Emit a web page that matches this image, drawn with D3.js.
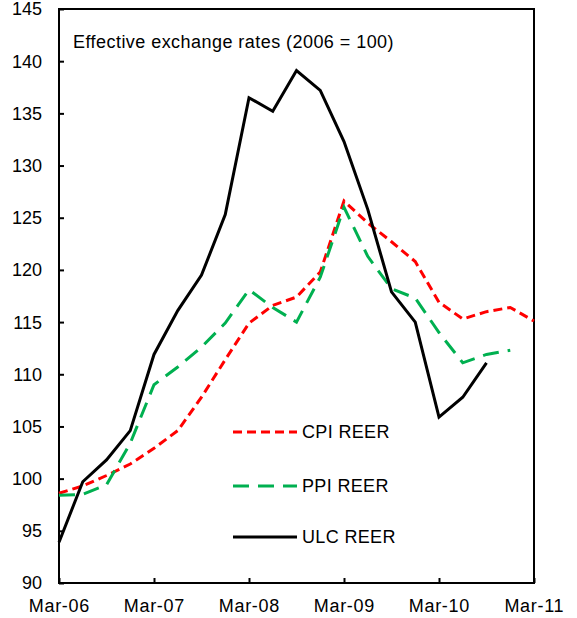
<!DOCTYPE html>
<html>
<head>
<meta charset="utf-8">
<script src="https://cdn.jsdelivr.net/npm/d3@7"></script>
<style>
  html, body { margin: 0; padding: 0; background: #fff; }
  svg { display: block; font-family: Arial, "Liberation Sans", sans-serif; }
</style>
</head>
<body>
<svg id="chart" width="577" height="618"></svg>
<script>
// Quarterly observations, Mar-06 (index 0) to Mar-11 (index 20)
const quarters = ["Mar-06","Jun-06","Sep-06","Dec-06","Mar-07","Jun-07","Sep-07","Dec-07",
  "Mar-08","Jun-08","Sep-08","Dec-08","Mar-09","Jun-09","Sep-09","Dec-09",
  "Mar-10","Jun-10","Sep-10","Dec-10","Mar-11"];
const cpiReer = [98.6, 99.3, 100.3, 101.4, 102.9, 104.6, 107.8, 111.4, 114.9, 116.6, 117.4, 119.8,
  126.6, 124.5, 122.7, 120.8, 116.9, 115.3, 116.0, 116.4, 115.1];
const ppiReer = [98.4, 98.5, 99.4, 103.4, 109.0, 110.7, 112.6, 114.9, 118.1, 116.4, 115.0, 119.3,
  126.0, 121.3, 118.2, 117.3, 114.0, 111.1, 111.9, 112.3];
const ulcReer = [93.9, 99.7, 101.8, 104.6, 111.9, 116.1, 119.5, 125.3, 136.5, 135.2, 139.1, 137.2,
  132.3, 125.8, 117.9, 115.0, 105.9, 107.8, 111.1];
const xTickLabels = ["Mar-06","Mar-07","Mar-08","Mar-09","Mar-10","Mar-11"];
const yTicks = [90, 95, 100, 105, 110, 115, 120, 125, 130, 135, 140, 145];
const seriesNames = ["CPI REER", "PPI REER", "ULC REER"];
const titleText = "Effective exchange rates (2006 = 100)";

(function () {
const svg = d3.select("#chart");
const mLeft = 59, mRight = 534, mTop = 9, mBottom = 583;

const x = d3.scaleLinear().domain([0, 20]).range([mLeft, mRight]);
const y = d3.scaleLinear().domain([90, 145]).range([mBottom, mTop]);

// Frame
svg.append("rect")
  .attr("x", mLeft).attr("y", mTop)
  .attr("width", mRight - mLeft).attr("height", mBottom - mTop)
  .attr("fill", "none").attr("stroke", "#000").attr("stroke-width", 2);

// Y axis (ticks inward)
const yAxis = d3.axisRight(y).tickValues(yTicks).tickSize(5).tickFormat("");
const yg = svg.append("g").attr("transform", `translate(${mLeft},0)`).call(yAxis);
yg.select(".domain").remove();
yg.selectAll(".tick line").attr("stroke", "#000").attr("stroke-width", 2);
svg.append("g").selectAll("text").data(yTicks).join("text")
  .attr("x", 42).attr("y", d => y(d)).attr("dy", "0.36em")
  .attr("text-anchor", "end").attr("font-size", 18).attr("fill", "#000")
  .text(d => d);

// X axis (ticks inward)
const xTickVals = xTickLabels.map(l => quarters.indexOf(l));
const xAxis = d3.axisTop(x).tickValues(xTickVals).tickSize(5).tickFormat("");
const xg = svg.append("g").attr("transform", `translate(0,${mBottom})`).call(xAxis);
xg.select(".domain").remove();
xg.selectAll(".tick line").attr("stroke", "#000").attr("stroke-width", 2);
svg.append("g").selectAll("text").data(xTickLabels).join("text")
  .attr("x", d => x(quarters.indexOf(d)) + 0.35).attr("y", 612)
  .attr("text-anchor", "middle").attr("font-size", 18)
  .attr("letter-spacing", 0.7).attr("fill", "#000")
  .text(d => d);

// Lines
const line = d3.line().x((d, i) => x(i)).y(d => y(d));
const styles = [
  { data: cpiReer, color: "#FF0000", dash: "9,5" },
  { data: ppiReer, color: "#00B050", dash: "16,9" },
  { data: ulcReer, color: "#000000", dash: null }
];
styles.forEach(s => {
  svg.append("path").datum(s.data)
    .attr("d", line)
    .attr("fill", "none")
    .attr("stroke", s.color)
    .attr("stroke-width", 3)
    .attr("stroke-dasharray", s.dash)
    .attr("stroke-linejoin", "miter");
});

// Title
svg.append("text").attr("x", 73).attr("y", 48)
  .attr("font-size", 18).attr("letter-spacing", 0.45)
  .attr("fill", "#000").text(titleText);

// Legend
const legendY = [432, 486, 537];
styles.forEach((s, i) => {
  svg.append("line")
    .attr("x1", 233).attr("x2", 297)
    .attr("y1", legendY[i]).attr("y2", legendY[i])
    .attr("stroke", s.color).attr("stroke-width", 3)
    .attr("stroke-dasharray", s.dash);
  svg.append("text").attr("x", 302).attr("y", legendY[i]).attr("dy", "0.36em")
    .attr("font-size", 18).attr("letter-spacing", 0.35)
    .attr("fill", "#000").text(seriesNames[i]);
});
})();
</script>
</body>
</html>
